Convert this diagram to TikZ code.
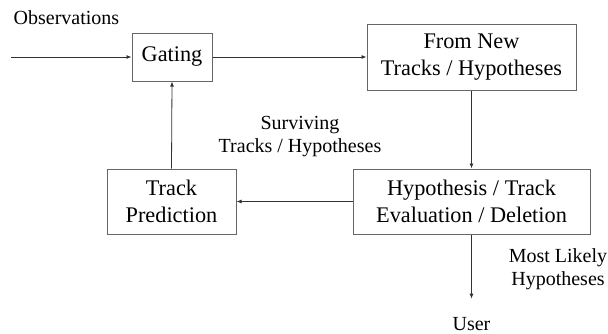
\documentclass[tikz,border=0pt]{standalone}
\usepackage{fontspec}
\setmainfont{Liberation Serif}
\usetikzlibrary{arrows.meta}
\begin{document}
\begin{tikzpicture}[x=1pt,y=-1pt,
  boxnode/.style={draw=black!60, line width=1pt, inner sep=0pt, align=center,
    font=\fontsize{22.3}{27}\selectfont},
  lbl/.style={inner sep=0pt, align=center, font=\fontsize{20}{23}\selectfont},
  conn/.style={draw=black!80, line width=0.8pt, -{Latex[length=5pt,width=4pt]}}]
\useasboundingbox (0,0) rectangle (608,333);
\fill[white] (0,0) rectangle (608,333);
\node[boxnode, minimum width=80pt, minimum height=48pt] (gate) at (172,57) {Gating};
\node[boxnode, minimum width=209pt, minimum height=66pt] (new) at (471.5,57) {From New\\Tracks / Hypotheses};
\node[boxnode, minimum width=129pt, minimum height=65pt] (pred) at (171.5,201.5) {Track\\Prediction};
\node[boxnode, minimum width=237pt, minimum height=65pt] (eval) at (471.5,201.5) {Hypothesis / Track\\Evaluation / Deletion};
\node[lbl] (obs) at (66.5,18) {Observations};
\coordinate (in) at (11,57);
\node[lbl] (surv) at (300,137) {Surviving\\Tracks / Hypotheses};
\node[lbl] (likely) at (558,269) {Most Likely\\Hypotheses};
\node[lbl, anchor=base] (user) at (471.5,330) {User};
\draw[conn] (in) -- (gate.west);
\draw[conn] (gate.east) -- (new.west);
\draw[conn] (new.south) -- (eval.north);
\draw[conn] (eval.west) -- (pred.east);
\draw[conn] (pred.north) -- (gate.south);
\draw[conn, shorten >=18pt] (eval.south) -- (user.north);
\end{tikzpicture}
\end{document}
